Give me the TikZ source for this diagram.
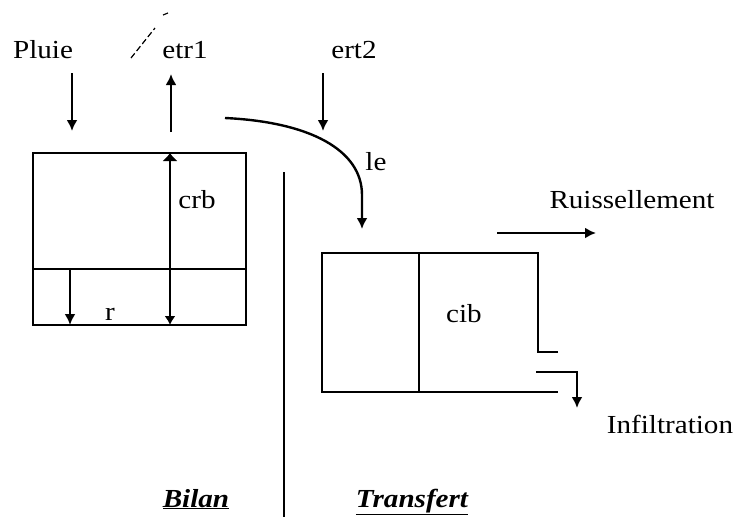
\documentclass[tikz,border=0pt]{standalone}
\usepackage{fontspec}
\setmainfont{Liberation Serif}[FakeStretch=1.12]
\usetikzlibrary{arrows.meta}
\begin{document}
\begin{tikzpicture}[x=1pt,y=-1pt,line width=2.4pt,
  lbl/.style={inner sep=0pt,font=\fontsize{26}{30}\selectfont,anchor=base},
  ttl/.style={inner sep=0pt,font=\fontsize{26}{30}\selectfont\bfseries\itshape,anchor=base},
  arr/.style={-{Latex[length=11pt,width=11pt]}},
  darr/.style={{Latex[length=8pt,width=16pt]}-{Latex[length=9pt,width=11pt]}}]
\useasboundingbox (0,0) rectangle (741,517);
% labels
\node[lbl] (pluie) at (43,58) {Pluie};
\node[lbl] (etr) at (185,58) {etr1};
\node[lbl] (ert) at (354,58) {ert2};
\node[lbl] (le) at (376,170) {le};
\node[lbl] (crb) at (197,208) {crb};
\node[lbl] (r) at (110,320) {r};
\node[lbl] (cib) at (464,322) {cib};
\node[lbl] (ruis) at (632,208) {Ruissellement};
\node[lbl] (inf) at (670,433) {Infiltration};
\node[ttl] (bilan) at (196,507) {\underline{Bilan}};
\node[ttl] (transfert) at (412,507) {\underline{Transfert}};
% stray pen mark
\draw[line width=1.2pt,dash pattern=on 6pt off 3pt] (131,58) -- (155,28);
\draw[line width=1.2pt] (163,15) -- (168,13);
% coordinates
\coordinate (pA) at (72,73);   \coordinate (pB) at (72,131);
\coordinate (eA) at (171,132); \coordinate (eB) at (171,74);
\coordinate (tA) at (323,73);  \coordinate (tB) at (323,131);
\coordinate (cS) at (225,118); \coordinate (cE) at (362,229);
% left box (Bilan)
\coordinate (L1) at (33,153); \coordinate (L2) at (246,325);
\draw (L1) rectangle (L2);
\coordinate (dL) at (33,269); \coordinate (dR) at (246,269);
\draw (dL) -- (dR);
\coordinate (crT) at (170,153); \coordinate (crB) at (170,325);
\draw[darr] (crT) -- (crB);
\coordinate (rT) at (70,269); \coordinate (rB) at (70,325);
\draw[arr] (rT) -- (rB);
% separator
\coordinate (sT) at (284,172); \coordinate (sB) at (284,517);
\draw (sT) -- (sB);
% input arrows
\draw[arr] (pA) -- (pB);
\draw[arr] (eA) -- (eB);
\draw[arr] (tA) -- (tB);
\draw[arr] (cS) .. controls (310,122) and (362,150) .. (362,195) -- (cE);
% right box (Transfert)
\coordinate (R1) at (322,253); \coordinate (R2) at (538,253);
\coordinate (R3) at (538,352); \coordinate (R4) at (558,352);
\coordinate (R5) at (558,392); \coordinate (R6) at (322,392);
\draw (R4) -- (R3) -- (R2) -- (R1) -- (R6) -- (R5);
\coordinate (dT) at (419,253); \coordinate (dB) at (419,392);
\draw (dT) -- (dB);
\coordinate (iA) at (536,372); \coordinate (iB) at (577,372); \coordinate (iC) at (577,408);
\draw[arr] (iA) -- (iB) -- (iC);
\coordinate (uA) at (497,233); \coordinate (uB) at (596,233);
\draw[arr] (uA) -- (uB);
\end{tikzpicture}
\end{document}
